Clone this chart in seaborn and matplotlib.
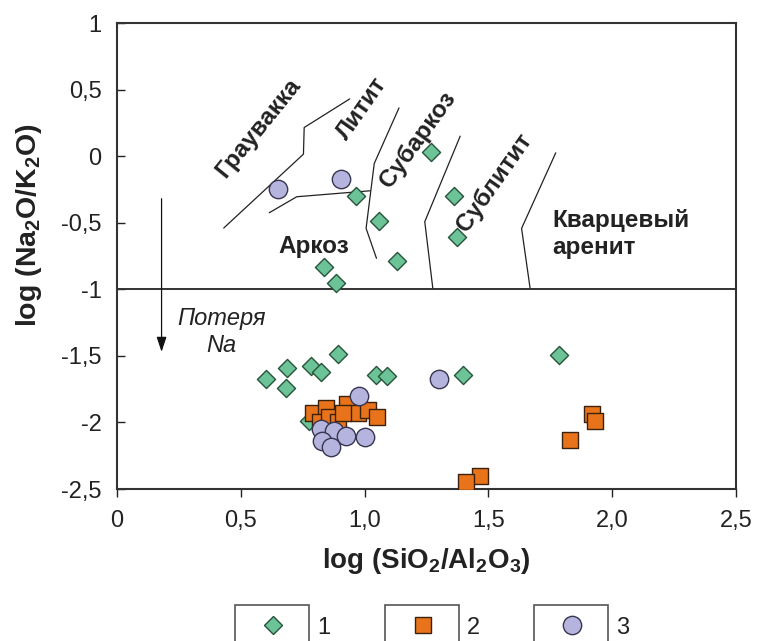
import matplotlib
matplotlib.use("Agg")
import matplotlib.pyplot as plt
import seaborn as sns
import pandas as pd
from matplotlib.patches import Rectangle
from matplotlib.lines import Line2D

# ---------------- data ----------------
g1_x = [1.269, 0.964, 1.361, 1.058, 1.372, 1.131, 0.836, 0.886,
        0.894, 1.784, 0.688, 0.784, 0.824, 0.601, 0.681, 1.048, 1.089, 1.397, 0.774]
g1_y = [0.03, -0.30, -0.30, -0.485, -0.61, -0.785, -0.835, -0.955,
        -1.484, -1.497, -1.59, -1.575, -1.62, -1.675, -1.74, -1.645, -1.65, -1.645, -1.99]

g2_x = [0.793, 0.844, 0.928, 0.975, 1.015, 1.052, 0.818, 0.858, 0.892, 0.914,
        1.918, 1.932, 1.828, 1.467, 1.409]
g2_y = [-1.93, -1.89, -1.86, -1.93, -1.91, -1.96, -2.00, -1.96, -2.00, -1.93,
        -1.935, -1.99, -2.13, -2.405, -2.445]

g3_x = [0.651, 0.906, 1.302, 0.979, 0.822, 0.876, 0.925, 1.000, 0.826, 0.866]
g3_y = [-0.25, -0.172, -1.672, -1.80, -2.05, -2.063, -2.10, -2.11, -2.14, -2.185]

# classification boundaries
b1_x = [0.431, 0.753, 0.756, 0.940]
b1_y = [-0.540, 0.015, 0.215, 0.430]
b2_x = [0.615, 0.726, 1.023]
b2_y = [-0.425, -0.305, -0.260]
b3_x = [1.139, 1.039, 1.006, 1.048]
b3_y = [0.3625, -0.055, -0.5425, -0.7675]
b4_x = [1.386, 1.243, 1.276]
b4_y = [0.150, -0.4925, -1.0]
b5_x = [1.772, 1.634, 1.669]
b5_y = [0.025, -0.5425, -1.0]

x_ticks = [0, 0.5, 1.0, 1.5, 2.0, 2.5]
x_ticklabels = ["0", "0,5", "1,0", "1,5", "2,0", "2,5"]
y_ticks = [1, 0.5, 0, -0.5, -1, -1.5, -2, -2.5]
y_ticklabels = ["1", "0,5", "0", "-0,5", "-1", "-1,5", "-2", "-2,5"]
group_labels = ["1", "2", "3"]

# ---------------- style ----------------
sns.set_style("white")
plt.rcParams['font.family'] = ['Liberation Sans', 'DejaVu Sans']
plt.rcParams['mathtext.fontset'] = 'custom'
plt.rcParams['mathtext.rm'] = 'Liberation Sans'
plt.rcParams['mathtext.bf'] = 'Liberation Sans:bold'
plt.rcParams['mathtext.it'] = 'Liberation Sans:italic'

W, H = 758, 641
fig = plt.figure(figsize=(W / 100, H / 100), dpi=100)
ax = fig.add_axes([117 / W, 1 - 489 / H, (736 - 117) / W, (489 - 23) / H])

c_green, e_green = "#6cc398", "#27533a"
c_orange, e_orange = "#e8731a", "#3a220f"
c_purple, e_purple = "#b4b4de", "#37354f"

df = pd.concat([
    pd.DataFrame({"x": g1_x, "y": g1_y, "g": "1"}),
    pd.DataFrame({"x": g2_x, "y": g2_y, "g": "2"}),
    pd.DataFrame({"x": g3_x, "y": g3_y, "g": "3"}),
], ignore_index=True)

style = {"1": ("D", c_green, e_green, 85),
         "2": ("s", c_orange, e_orange, 125),
         "3": ("o", c_purple, e_purple, 175)}
for z, g in enumerate(["1", "2", "3"]):
    m, fc, ec, s = style[g]
    sns.scatterplot(data=df[df.g == g], x="x", y="y", marker=m, color=fc,
                    edgecolor=ec, linewidth=1.0, s=s, ax=ax, zorder=3 + z,
                    legend=False)

line_kw = dict(color="#222222", lw=0.9, zorder=2)
for bx, by in [(b1_x, b1_y), (b2_x, b2_y), (b3_x, b3_y), (b4_x, b4_y), (b5_x, b5_y)]:
    ax.plot(bx, by, **line_kw)
ax.axhline(-1, color="#333333", lw=1.4, zorder=2)

# Na loss arrow
ax.annotate("", xy=(0.18, -1.47), xytext=(0.18, -0.32),
            arrowprops=dict(arrowstyle="-|>,head_length=0.9,head_width=0.3",
                            color="#111111", lw=0.9, shrinkA=0, shrinkB=0))
ax.text(0.423, -1.32, "Потеря\nNa", ha="center", va="center", fontsize=17,
        style="italic", color="#222222", linespacing=1.25)

lab_kw = dict(fontsize=17.5, fontweight="bold", color="#222222",
              ha="center", va="center", rotation_mode="anchor")
ax.text(0.570, 0.2125, "Граувакка", rotation=51, **lab_kw)
ax.text(0.989, 0.3575, "Литит", rotation=55, **lab_kw)
ax.text(1.214, 0.125, "Субаркоз", rotation=54, **lab_kw)
ax.text(1.522, -0.20, "Сублитит", rotation=55, **lab_kw)
ax.text(0.794, -0.68, "Аркоз", **lab_kw)
ax.text(1.759, -0.585, "Кварцевый\nаренит", fontsize=17.5, fontweight="bold",
        color="#222222", ha="left", va="center", linespacing=1.25)

ax.set_xlim(0, 2.5)
ax.set_ylim(-2.5, 1)
ax.set_xticks(x_ticks)
ax.set_xticklabels(x_ticklabels)
ax.set_yticks(y_ticks)
ax.set_yticklabels(y_ticklabels)
ax.tick_params(axis="x", direction="out", length=6, width=1.0, pad=9,
               labelsize=17, colors="#222222", bottom=True)
ax.tick_params(axis="y", direction="in", length=6, width=1.0, pad=11,
               labelsize=17, colors="#222222", left=True)
for sp in ax.spines.values():
    sp.set_color("#333333")
    sp.set_linewidth(1.5)

ax.set_xlabel(r"log (SiO$_{\mathbf{2}}$/Al$_{\mathbf{2}}$O$_{\mathbf{3}}$)",
              fontsize=20, fontweight="bold", color="#222222")
ax.xaxis.set_label_coords(0.5, (489 - 546) / 466)
ax.xaxis.label.set_va("top")
ax.set_ylabel(r"log (Na$_{\mathbf{2}}$O/K$_{\mathbf{2}}$O)",
              fontsize=20.5, fontweight="bold", color="#222222")
ax.yaxis.set_label_coords((44 - 117) / 619, (489 - 225) / 466)

# legend: boxed markers with numbers outside
box_x = [235, 385, 534]
for i, g in enumerate(["1", "2", "3"]):
    m, fc, ec, s = style[g]
    x0 = box_x[i]
    fig.patches.append(Rectangle((x0 / W, -0.02), 74 / W, 0.02 + (641 - 605) / H,
                                 transform=fig.transFigure, fill=False,
                                 edgecolor="#555555", lw=1.2))
    ms = {"D": 9.2, "s": 11.2, "o": 13.2}[m]
    fig.lines.append(Line2D([(x0 + 38) / W], [1 - 625 / H], marker=m,
                            markersize=ms, markerfacecolor=fc,
                            markeredgecolor=ec, markeredgewidth=1.0,
                            linestyle="none", transform=fig.transFigure))
    fig.text((x0 + 82) / W, 1 - 628 / H, group_labels[i], fontsize=17,
             color="#222222", ha="left", va="center")

fig.savefig("out.png", dpi=100)
